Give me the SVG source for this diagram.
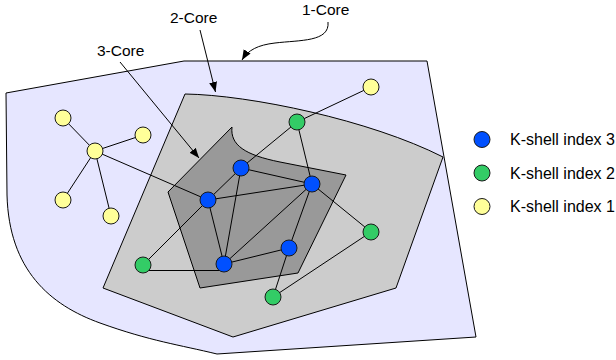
<svg xmlns="http://www.w3.org/2000/svg" width="616" height="360" viewBox="0 0 616 360">
<style>
.region{stroke:#000;stroke-width:1;stroke-linejoin:miter}
.edge{stroke:#000;stroke-width:1;fill:none}
.n{stroke:#1a1a1a;stroke-width:1}
.k3{fill:#0050FF}
.k2{fill:#33CC66}
.k1{fill:#FFFF99}
.lbl{font-family:"Liberation Sans",Arial,sans-serif;font-size:15.5px;fill:#000}
.leg{font-family:"Liberation Sans",Arial,sans-serif;font-size:16px;fill:#000}
.arrow{stroke:#000;stroke-width:1;fill:none;marker-end:url(#ah)}
</style>
<defs>
<marker id="ah" markerUnits="userSpaceOnUse" markerWidth="11" markerHeight="9" refX="10" refY="4" orient="auto">
<path d="M0,0 L10,4 L0,8 Z" fill="#000"/>
</marker>
</defs>
<rect width="616" height="360" fill="#fff"/>
<g id="core1">
<path class="region" fill="#E6E6FF" d="M6,93 L184,61 L427,61 L476,337 L217,354 C 180,345 150,341 100,323 C 50,305 9,270 7,195 Z"/>
</g>
<g id="core2">
<path class="region" fill="#CCCCCC" d="M185,94 C 250,95 370,120 443,157 L396,288 L233,337 L103,288 Z"/>
</g>
<g id="core3">
<path class="region" fill="#999999" d="M232,127 C 230,145 245,155 280,162 L346,175 L298,273 L200,288 L168,192 Z"/>
</g>
<g id="connectors">
<line class="edge" x1="63" y1="118" x2="95" y2="151"/>
<line class="edge" x1="143" y1="135" x2="95" y2="151"/>
<line class="edge" x1="95" y1="151" x2="63" y2="200"/>
<line class="edge" x1="95" y1="151" x2="111" y2="216"/>
<line class="edge" x1="95" y1="151" x2="208" y2="200"/>
<line class="edge" x1="371" y1="87" x2="297" y2="122"/>
<line class="edge" x1="297" y1="122" x2="241" y2="168"/>
<line class="edge" x1="297" y1="122" x2="312" y2="184"/>
<line class="edge" x1="241" y1="168" x2="208" y2="200"/>
<line class="edge" x1="241" y1="168" x2="312" y2="184"/>
<line class="edge" x1="241" y1="168" x2="224" y2="264"/>
<line class="edge" x1="208" y1="200" x2="312" y2="184"/>
<line class="edge" x1="208" y1="200" x2="224" y2="264"/>
<line class="edge" x1="208" y1="200" x2="143" y2="265"/>
<line class="edge" x1="312" y1="184" x2="224" y2="264"/>
<line class="edge" x1="312" y1="184" x2="289" y2="248"/>
<line class="edge" x1="312" y1="184" x2="371" y2="232"/>
<line class="edge" x1="289" y1="248" x2="224" y2="264"/>
<line class="edge" x1="289" y1="248" x2="273" y2="297"/>
<line class="edge" x1="371" y1="232" x2="273" y2="297"/>
<line class="edge" x1="148" y1="270.5" x2="220" y2="270.5"/>
<path class="arrow" d="M328,22 C 330,42 300,40 275,43 C 258,45 248,50 242,60"/>
<line class="arrow" x1="200" y1="30" x2="215.5" y2="92"/>
<line class="arrow" x1="120" y1="62" x2="199" y2="158"/>
</g>
<g id="y1"><circle class="n k1" cx="371" cy="87" r="8"/></g>
<g id="y2"><circle class="n k1" cx="63" cy="118" r="8"/></g>
<g id="y3"><circle class="n k1" cx="143" cy="135" r="8"/></g>
<g id="y4"><circle class="n k1" cx="95" cy="151" r="8"/></g>
<g id="y5"><circle class="n k1" cx="63" cy="200" r="8"/></g>
<g id="y6"><circle class="n k1" cx="111" cy="216" r="8"/></g>
<g id="g1"><circle class="n k2" cx="297" cy="122" r="8"/></g>
<g id="g2"><circle class="n k2" cx="143" cy="265" r="8"/></g>
<g id="g3"><circle class="n k2" cx="371" cy="232" r="8"/></g>
<g id="g4"><circle class="n k2" cx="273" cy="297" r="8"/></g>
<g id="b1"><circle class="n k3" cx="241" cy="168" r="8"/></g>
<g id="b2"><circle class="n k3" cx="208" cy="200" r="8"/></g>
<g id="b3"><circle class="n k3" cx="312" cy="184" r="8"/></g>
<g id="b4"><circle class="n k3" cx="289" cy="248" r="8"/></g>
<g id="b5"><circle class="n k3" cx="224" cy="264" r="8"/></g>
<g id="labels">
<text class="lbl" x="302" y="15">1-Core</text>
<text class="lbl" x="170" y="23">2-Core</text>
<text class="lbl" x="97" y="56">3-Core</text>
</g>
<g id="legend">
<g id="leg3"><circle class="n k3" cx="482" cy="139.5" r="8"/><text class="leg" x="510" y="145">K-shell index 3</text></g>
<g id="leg2"><circle class="n k2" cx="482" cy="173" r="8"/><text class="leg" x="510" y="178.5">K-shell index 2</text></g>
<g id="leg1"><circle class="n k1" cx="482" cy="206.5" r="8"/><text class="leg" x="510" y="212">K-shell index 1</text></g>
</g>
</svg>
